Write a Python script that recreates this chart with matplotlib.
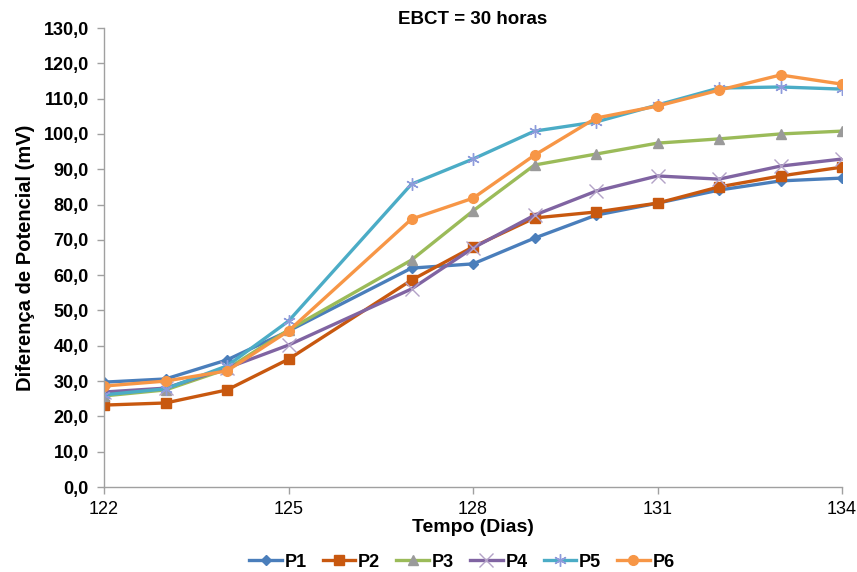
import matplotlib
matplotlib.use("Agg")
import matplotlib.pyplot as plt
from matplotlib.ticker import FuncFormatter

plt.rcParams['font.family'] = ['Liberation Sans', 'DejaVu Sans']

dias = [122, 123, 124, 125, 127, 128, 129, 130, 131, 132, 133, 134]
p1 = [29.7, 30.6, 36.0, 44.2, 62.0, 63.2, 70.5, 77.0, 80.4, 84.1, 86.7, 87.5]
p2 = [23.2, 23.8, 27.5, 36.2, 58.6, 68.0, 76.2, 77.9, 80.4, 85.0, 88.1, 90.6]
p3 = [25.8, 27.5, 33.4, 44.5, 64.3, 78.2, 91.2, 94.3, 97.4, 98.6, 100.0, 100.8]
p4 = [26.9, 28.0, 33.7, 40.2, 56.1, 67.7, 77.0, 83.8, 88.1, 87.2, 90.9, 92.9]
p5 = [26.1, 27.8, 34.3, 47.0, 85.8, 92.9, 100.8, 103.4, 108.2, 113.0, 113.3, 112.7]
p6 = [28.6, 30.0, 32.9, 44.2, 75.9, 81.8, 94.0, 104.5, 107.9, 112.4, 116.7, 114.1]

series = [
    ("P1", p1, "#4A7EBB", "D", "#4A7EBB", 5),
    ("P2", p2, "#C8580F", "s", "#C8580F", 7),
    ("P3", p3, "#9BBB59", "^", "#9A9A9A", 7),
    ("P4", p4, "#8064A2", "x", "#B3A2C7", 10),
    ("P5", p5, "#4BACC6", (6, 2, 0), "#8E9BDB", 9),
    ("P6", p6, "#F79646", "o", "#F79646", 7),
]

fig = plt.figure(figsize=(8.57, 5.72), dpi=100)
ax = fig.add_axes([0.1214, 0.1486, 0.8611, 0.8024])

for name, vals, col, mk, mcol, ms in series:
    ax.plot(dias, vals, color=col, lw=2.4, marker=mk, markersize=ms,
            markerfacecolor=mcol, markeredgecolor=mcol, markeredgewidth=1.0,
            label=name)

ax.set_xlim(122, 134)
ax.set_ylim(0, 130)
ax.set_xticks([122, 125, 128, 131, 134])
ax.set_yticks(range(0, 131, 10))
ax.yaxis.set_major_formatter(FuncFormatter(lambda v, p: f"{v:.1f}".replace('.', ',')))

for s in ['top', 'right']:
    ax.spines[s].set_visible(False)
for s in ['left', 'bottom']:
    ax.spines[s].set_color('#A0A0A0')
    ax.spines[s].set_linewidth(1.0)
ax.tick_params(axis='both', colors='#A0A0A0', length=5, width=1.0)
ax.tick_params(axis='x', labelcolor='black', labelsize=13, pad=5)
ax.tick_params(axis='y', labelcolor='black', labelsize=13, pad=6)
for lbl in ax.get_yticklabels():
    lbl.set_fontweight('bold')
for lbl in ax.get_xticklabels():
    lbl.set_fontstretch('condensed')

ax.set_xlabel("Tempo (Dias)", fontsize=14, fontweight='bold', labelpad=1)
ax.set_ylabel("Diferença de Potencial (mV)", fontsize=14.5, fontweight='bold', labelpad=6)
ax.set_title("EBCT = 30 horas", fontsize=13.5, fontweight='bold', pad=3)

leg = fig.legend(loc='center', bbox_to_anchor=(0.539, 0.017), ncol=6, frameon=False,
                 prop={'weight': 'bold', 'size': 13}, handlelength=1.8,
                 columnspacing=0.9, handletextpad=0.15)

fig.savefig("out.png", dpi=100)
